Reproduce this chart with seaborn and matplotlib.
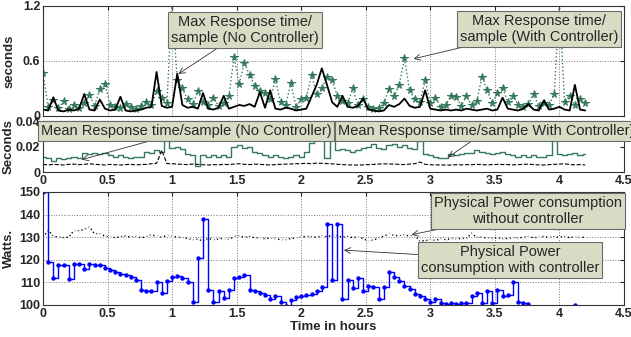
import numpy as np
import pandas as pd
import matplotlib
matplotlib.use("Agg")
import matplotlib.pyplot as plt
import seaborn as sns

# sample times (hours), one sample every 0.04 h
hours = np.round(np.arange(0, 4.21, 0.04), 2)

# max response time per sample (seconds)
max_with_ctrl = [
    0.47, 0.10, 0.17, 0.09, 0.16, 0.08, 0.12, 0.09, 0.14, 0.23,
    0.11, 0.29, 0.35, 0.12, 0.10, 0.09, 0.13, 0.10, 0.08, 0.11,
    0.15, 0.12, 0.27, 0.20, 0.14, 1.25, 0.39, 0.30, 0.18, 0.13,
    0.27, 0.15, 0.12, 0.20, 0.11, 0.14, 0.22, 0.64, 0.35, 0.58,
    0.45, 0.33, 0.27, 0.25, 0.18, 0.40, 0.15, 0.12, 0.36, 0.10,
    0.18, 0.20, 0.45, 0.24, 0.30, 0.43, 0.39, 0.22, 0.16, 0.14,
    0.30, 0.12, 0.18, 0.10, 0.08, 0.09, 0.14, 0.29, 0.22, 0.34,
    0.63, 0.28, 0.18, 0.15, 0.39, 0.14, 0.20, 0.10, 0.12, 0.22,
    0.21, 0.11, 0.22, 0.12, 0.16, 0.43, 0.28, 0.14, 0.25, 0.31,
    0.15, 0.22, 0.12, 0.10, 0.13, 0.24, 0.11, 0.14, 0.12, 0.24,
    1.25, 0.15, 0.22, 0.12, 0.18, 0.14]
max_no_ctrl = [
    0.07, 0.06, 0.20, 0.06, 0.05, 0.07, 0.06, 0.08, 0.24, 0.07,
    0.06, 0.18, 0.08, 0.06, 0.07, 0.21, 0.06, 0.05, 0.06, 0.07,
    0.09, 0.10, 0.48, 0.11, 0.09, 0.10, 0.46, 0.12, 0.09, 0.10,
    0.08, 0.25, 0.08, 0.07, 0.09, 0.22, 0.08, 0.10, 0.12, 0.11,
    0.13, 0.10, 0.26, 0.09, 0.28, 0.08, 0.07, 0.09, 0.08, 0.06,
    0.07, 0.08, 0.21, 0.34, 0.52, 0.34, 0.15, 0.10, 0.22, 0.10,
    0.09, 0.11, 0.19, 0.07, 0.06, 0.05, 0.06, 0.12, 0.10, 0.13,
    0.19, 0.11, 0.09, 0.10, 0.28, 0.08, 0.07, 0.06, 0.07, 0.06,
    0.07, 0.06, 0.08, 0.07, 0.06, 0.07, 0.08, 0.06, 0.07, 0.20,
    0.08, 0.07, 0.06, 0.08, 0.13, 0.07, 0.06, 0.17, 0.07, 0.08,
    0.10, 0.07, 0.06, 0.34, 0.07, 0.06]

# mean response time per sample (seconds)
mean_with_ctrl = [
    0.012, 0.011, 0.009, 0.011, 0.010, 0.011, 0.012, 0.011, 0.015, 0.014,
    0.015, 0.014, 0.015, 0.013, 0.012, 0.013, 0.012, 0.011, 0.012, 0.012,
    0.016, 0.015, 0.017, 0.016, 0.045, 0.019, 0.020, 0.018, 0.014, 0.013,
    0.005, 0.013, 0.012, 0.013, 0.012, 0.013, 0.012, 0.020, 0.021, 0.019,
    0.020, 0.016, 0.015, 0.013, 0.012, 0.013, 0.012, 0.011, 0.012, 0.013,
    0.012, 0.016, 0.023, 0.030, 0.045, 0.011, 0.045, 0.017, 0.018, 0.017,
    0.016, 0.017, 0.019, 0.020, 0.022, 0.019, 0.018, 0.021, 0.022, 0.020,
    0.021, 0.019, 0.018, 0.024, 0.014, 0.013, 0.012, 0.011, 0.011, 0.014,
    0.013, 0.014, 0.015, 0.015, 0.017, 0.016, 0.015, 0.014, 0.015, 0.016,
    0.014, 0.013, 0.012, 0.013, 0.012, 0.013, 0.012, 0.012, 0.013, 0.026,
    0.014, 0.013, 0.014, 0.015, 0.013, 0.014]
mean_no_ctrl = [
    0.006, 0.0055, 0.006, 0.0058, 0.0055, 0.006, 0.0062, 0.0058, 0.006, 0.0065,
    0.006, 0.0058, 0.0055, 0.006, 0.0057, 0.0055, 0.0058, 0.006, 0.0056, 0.0058,
    0.006, 0.0065, 0.0068, 0.017, 0.0066, 0.0065, 0.0062, 0.006, 0.0058, 0.0062,
    0.006, 0.0057, 0.0055, 0.0058, 0.0056, 0.006, 0.0058, 0.0062, 0.0065, 0.006,
    0.0058, 0.0062, 0.006, 0.0057, 0.0055, 0.0058, 0.006, 0.0062, 0.0063, 0.0065,
    0.0066, 0.0068, 0.0065, 0.007, 0.0068, 0.0066, 0.0064, 0.006, 0.0058, 0.0056,
    0.0055, 0.0054, 0.0056, 0.0058, 0.006, 0.0062, 0.0064, 0.0063, 0.0062, 0.006,
    0.0058, 0.0062, 0.0065, 0.0078, 0.006, 0.0057, 0.0055, 0.0056, 0.0054, 0.0055,
    0.0057, 0.0056, 0.0058, 0.0057, 0.006, 0.0058, 0.0056, 0.0058, 0.006, 0.0059,
    0.0058, 0.0056, 0.0058, 0.006, 0.0062, 0.0058, 0.0056, 0.0055, 0.0058, 0.006,
    0.0062, 0.0065, 0.0058, 0.0056, 0.0058, 0.0055]

# physical power consumption (Watts)
power_no_ctrl = [
    130, 133, 130.5, 130, 129.8, 130, 133, 132.8, 133.5, 134.5,
    131.5, 131.5, 130.5, 130, 129.8, 130.2, 130.5, 130, 130.3, 129.8,
    130.2, 131, 130.5, 130, 130.8, 130.5, 130, 129.8, 129.5, 128.8,
    129.2, 128.2, 129.5, 128.8, 129.2, 129.5, 129, 130.2, 130.5, 130,
    130.3, 129.8, 129.5, 129.3, 129.6, 129.2, 129, 128.8, 129.4, 129.6,
    130, 130.4, 130.2, 130, 130.6, 130.2, 130.8, 130.4, 130.1, 130.3,
    129.8, 130.2, 129.4, 128.2, 128.8, 129.6, 130.5, 131.4, 130.8, 130.6,
    131, 130.5, 130.8, 128.2, 128.5, 128.8, 128.6, 129.2, 128.9, 129.3,
    129.1, 129.5, 129.4, 131.8, 129.8, 130, 129.6, 129.4, 129.8, 129.2,
    129.5, 129.8, 129.6, 130, 130.2, 129.8, 130, 130.3, 129.9, 130.2,
    130, 130.3, 129.8, 130.1, 129.9, 130]
nan = np.nan
power_with_ctrl = [
    150, 119, 112, 117.7, 117.5, 111.3, 118, 118.2, 116, 118,
    117.8, 117.5, 116.5, 115.5, 114.5, 113.5, 113.2, 112.5, 111, 106.5,
    106.3, 106, 110, 105.5, 110.5, 112.5, 113, 112, 110, 101.5,
    121, 138, 106.5, 101.5, 106, 103, 106.5, 112, 112.5, 113.3,
    106.5, 106, 105.5, 104.5, 102.5, 104, 101.5, 99.5, 102, 103.5,
    104, 104.5, 105, 106, 108, 136, 111, 136, 102.5, 111,
    107.5, 112, 106, 108.5, 108, 102.5, 108, 114.5, 112.5, 110.5,
    108.5, 107, 105, 104, 102.5, 101.5, 102.5, 101, 100.5, 100.8,
    100.5, 100.7, 101, 104, 105.5, 101, 106, 101, 106.5, 104,
    104.5, 110, 101.5, 101, 100.5, nan, nan, nan, nan, nan,
    nan, nan, nan, 100.2, nan, nan]

green = "#357a5a"
box = dict(boxstyle="square,pad=0.2", fc="#d9dcc4", ec="#6a6a6a", lw=0.8)
arrow = dict(arrowstyle="->", color="#333333", lw=0.6, shrinkA=0, shrinkB=1)

sns.set_style("white")
plt.rcParams["font.family"] = ["Liberation Sans", "DejaVu Sans"]

fig = plt.figure(figsize=(6.31, 3.37), dpi=100)
ax1 = fig.add_axes([0.0681, 0.6558, 0.9207, 0.3264])
ax2 = fig.add_axes([0.0681, 0.4896, 0.9207, 0.1513])
ax3 = fig.add_axes([0.0681, 0.0950, 0.9207, 0.3353])

# top: max response time
sns.lineplot(x=hours, y=max_with_ctrl, ax=ax1, color=green, linestyle=":", lw=1.0,
             marker="*", markersize=5.5, markeredgecolor=green, estimator=None, sort=False)
sns.lineplot(x=hours, y=max_no_ctrl, ax=ax1, color="black", lw=1.3,
             estimator=None, sort=False)
ax1.set_ylim(0, 1.2)
ax1.set_yticks([0, 0.6, 1.2])
ax1.set_yticklabels(["0", "0.6", "1.2"])
ax1.set_xticklabels([])
ax1.set_ylabel("seconds")
ax1.grid(True, linestyle=":", color="#777777", lw=0.7)

# middle: mean response time
sns.lineplot(x=hours, y=mean_with_ctrl, ax=ax2, color=green, lw=1.0,
             drawstyle="steps-mid", estimator=None, sort=False)
sns.lineplot(x=hours, y=mean_no_ctrl, ax=ax2, color="black", lw=0.8, linestyle="--",
             estimator=None, sort=False)
ax2.set_ylim(0, 0.04)
ax2.set_yticks([0, 0.02, 0.04])
ax2.set_yticklabels(["0", "0.02", "0.04"])
ax2.set_ylabel("Seconds")

# bottom: power
sns.lineplot(x=hours, y=power_no_ctrl, ax=ax3, color="black", lw=1.0, linestyle=":",
             marker=".", markersize=2, estimator=None, sort=False)
ok = ~np.isnan(power_with_ctrl)
main = ok & (hours < 4.0)
sns.lineplot(x=hours[main], y=np.array(power_with_ctrl)[main], ax=ax3, color="#0000ff",
             lw=1.0, drawstyle="steps-post", estimator=None, sort=False)
sns.scatterplot(x=hours[ok], y=np.array(power_with_ctrl)[ok], ax=ax3, color="#0000ff",
                s=10, linewidth=0)
ax3.set_ylim(100, 150)
ax3.set_yticks(range(100, 151, 10))
ax3.set_ylabel("Watts.")
ax3.set_xlabel("Time in hours", labelpad=1)
ax3.grid(True, linestyle=":", color="#777777", lw=0.7)

xt = [0, 0.5, 1, 1.5, 2, 2.5, 3, 3.5, 4, 4.5]
for ax in (ax1, ax2, ax3):
    ax.set_xlim(0, 4.5)
    ax.set_xticks(xt)
    ax.tick_params(direction="in", top=True, right=True, length=3, pad=2,
                   labelsize=9)
    for lab in ax.get_xticklabels() + ax.get_yticklabels():
        lab.set_fontweight("bold")
    ax.yaxis.label.set_fontweight("bold")
    ax.yaxis.label.set_fontsize(9.5)
    ax.yaxis.set_label_coords(-0.048, 0.5)
    for sp in ax.spines.values():
        sp.set_color("#333333")
        sp.set_linewidth(0.8)
ax2.set_xticklabels(["0", "0.5", "1", "1.5", "2", "2.5", "3", "3.5", "4", "4.5"])
ax3.set_xticklabels(["0", "0.5", "1", "1.5", "2", "2.5", "3", "3.5", "4", "4.5"])
for lab in ax2.get_xticklabels() + ax3.get_xticklabels():
    lab.set_fontweight("bold")
ax3.xaxis.label.set_fontweight("bold")
ax3.xaxis.label.set_fontsize(9.5)

fs = 10.5
ax1.annotate("Max Response time/\nsample (No Controller)", xy=(1.04, 0.45), xycoords="data",
             xytext=(245, 307), textcoords="figure pixels", ha="center", va="center",
             fontsize=fs, bbox=box, arrowprops=arrow, zorder=10)
ax1.annotate("Max Response time/\nsample (With Controller)", xy=(2.86, 0.62), xycoords="data",
             xytext=(539, 308), textcoords="figure pixels", ha="center", va="center",
             fontsize=fs, bbox=box, arrowprops=arrow, zorder=10)
ax2.annotate("Mean Response time/sample (No Controller)", xy=(0.29, 0.0094), xycoords="data",
             xytext=(186, 206), textcoords="figure pixels", ha="center", va="center",
             fontsize=fs, bbox=box, arrowprops=arrow, zorder=10, annotation_clip=False)
ax2.annotate("Mean Response time/sample With Controller)", xy=(3.13, 0.011), xycoords="data",
             xytext=(338, 206), textcoords="figure pixels", ha="left", va="center",
             fontsize=fs, bbox=box, arrowprops=arrow, zorder=10, annotation_clip=False)
ax3.annotate("Physical Power consumption\nwithout controller", xy=(2.845, 131), xycoords="data",
             xytext=(528, 126), textcoords="figure pixels", ha="center", va="center",
             fontsize=fs, bbox=box, arrowprops=arrow, zorder=10)
ax3.annotate("Physical Power\nconsumption with controller", xy=(2.32, 124.3), xycoords="data",
             xytext=(510, 77), textcoords="figure pixels", ha="center", va="center",
             fontsize=fs, bbox=box, arrowprops=arrow, zorder=10)

fig.savefig("out.png", dpi=100)
